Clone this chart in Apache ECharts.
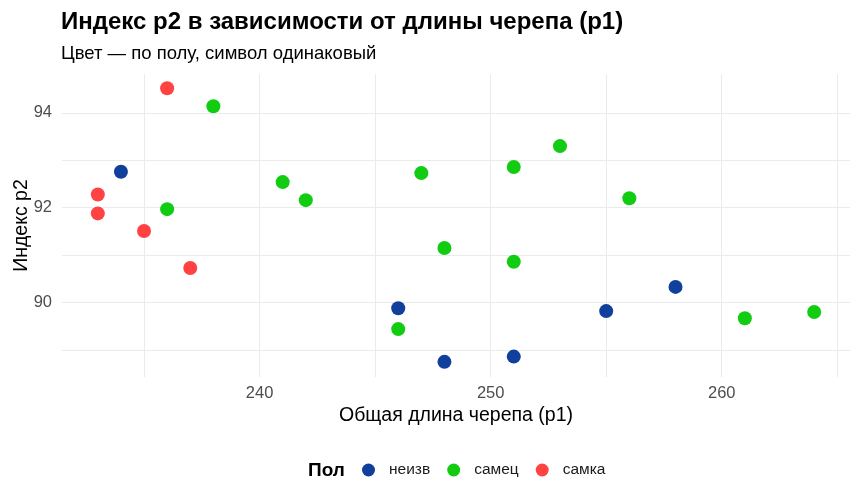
<!DOCTYPE html>
<html lang="ru">
<head>
    <meta charset="UTF-8">
    <title>Индекс p2</title>
    <style>
        body { margin: 0; background: #fff; }
        #chart { width: 863px; height: 500px; }
    </style>
    <script src="https://cdn.jsdelivr.net/npm/echarts@6/dist/echarts.min.js"></script>
</head>
<body>
    <div id="chart"></div>
    <script>
        // данные по группам (p1, p2)
        const unknownP1 = [234, 246, 248, 251, 255, 258];
        const unknownP2 = [92.76, 89.88, 88.75, 88.86, 89.82, 90.33];
        const maleP1 = [238, 236, 241, 242, 247, 248, 251, 251, 253, 256, 246, 261, 264];
        const maleP2 = [94.14, 91.97, 92.54, 92.16, 92.73, 91.15, 92.86, 90.86, 93.30, 92.20, 89.44, 89.67, 89.80];
        const femaleP1 = [236, 233, 233, 235, 237];
        const femaleP2 = [94.52, 92.28, 91.88, 91.51, 90.73];

        const groupNames = ['неизв', 'самец', 'самка'];
        const groupColors = ['#103F9C', '#12CC12', '#FF4343'];
        const xTicks = [240, 250, 260];
        const xGrid = [235, 240, 245, 250, 255, 260, 265];
        const yTicks = [90, 92, 94];
        const yGrid = [89, 90, 91, 92, 93, 94];

        function pairs(xs, ys) {
            return xs.map((x, i) => [x, ys[i]]);
        }

        const groups = [
            pairs(unknownP1, unknownP2),
            pairs(maleP1, maleP2),
            pairs(femaleP1, femaleP2)
        ];

        const chart = echarts.init(document.getElementById('chart'));

        const font = 'Liberation Sans, Arial, sans-serif';

        chart.setOption({
            animation: false,
            textStyle: { fontFamily: font },
            title: [
                {
                    text: 'Индекс p2 в зависимости от длины черепа (p1)',
                    left: 61, top: 10, padding: 0,
                    textStyle: { fontSize: 24, fontWeight: 'bold', color: '#000', fontFamily: font }
                },
                {
                    text: 'Цвет — по полу, символ одинаковый',
                    left: 61, top: 44, padding: 0,
                    textStyle: { fontSize: 18.5, fontWeight: 'normal', color: '#000', fontFamily: font }
                },
                {
                    text: 'Пол',
                    left: 308, top: 461, padding: 0,
                    textStyle: { fontSize: 19, fontWeight: 'bold', color: '#000', fontFamily: font }
                }
            ],
            legend: {
                data: groupNames,
                left: 362, top: 462, padding: 0,
                icon: 'circle',
                itemWidth: 13, itemHeight: 13,
                itemGap: 17,
                textStyle: { fontSize: 15.5, color: '#1a1a1a', padding: [0, 0, 0, 9], fontFamily: font }
            },
            grid: { left: 62, right: 13, top: 74, bottom: 123, containLabel: false, outerBoundsMode: 'none' },
            xAxis: {
                type: 'value',
                min: 231.45, max: 265.55,
                name: 'Общая длина черепа (p1)',
                nameLocation: 'middle', nameGap: 29,
                nameMoveOverlap: false,
                nameTextStyle: { fontSize: 19.5, color: '#000' },
                axisLine: { show: false },
                axisTick: { show: false, customValues: xGrid },
                axisLabel: { customValues: xTicks, color: '#4D4D4D', fontSize: 16.5, margin: 8 },
                splitLine: { show: true, lineStyle: { color: '#EBEBEB', width: 1 } }
            },
            yAxis: {
                type: 'value',
                min: 88.43, max: 94.82,
                name: 'Индекс p2',
                nameLocation: 'middle', nameGap: 30,
                nameMoveOverlap: false,
                nameTextStyle: { fontSize: 19.5, color: '#000' },
                axisLine: { show: false },
                axisTick: { show: false, customValues: yGrid },
                axisLabel: { customValues: yTicks, color: '#4D4D4D', fontSize: 16.5, margin: 10 },
                splitLine: { show: true, lineStyle: { color: '#EBEBEB', width: 1 } }
            },
            series: groupNames.map((name, i) => ({
                name: name,
                type: 'scatter',
                symbol: 'circle',
                symbolSize: 14,
                itemStyle: { color: groupColors[i], opacity: 1 },
                data: groups[i]
            }))
        });
    </script>
</body>
</html>
